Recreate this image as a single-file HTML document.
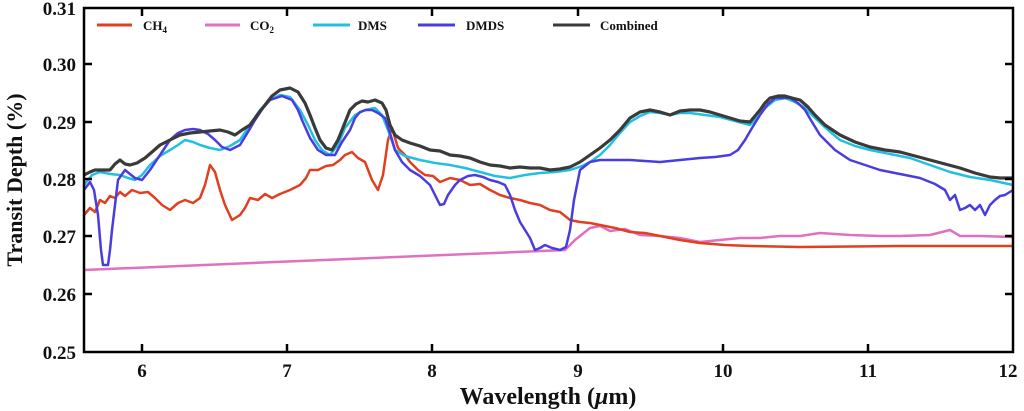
<!DOCTYPE html>
<html><head><meta charset="utf-8"><style>
body{margin:0;background:#fff;}
svg{display:block;font-family:"Liberation Serif",serif;font-weight:bold;}
</style></head><body>
<svg width="1024" height="411" viewBox="0 0 1024 411">
<g fill="none" stroke-linejoin="round" stroke-width="2.5">
<polyline stroke="#e070c0" points="84,270 565,250 575,240 590,228 600,226 610,231 625,229 640,235 660,236 680,238 700,242 720,240 740,238 760,238 780,236 800,236 820,233 850,235 880,236 900,236 930,235 950,230 960,236 980,236 1013,237"/>
<polyline stroke="#e04020" points="84,215 90,208 95,212 100,200 105,203 110,196 115,198 120,192 125,196 132,190 140,193 148,192 155,198 162,205 170,210 178,203 185,200 193,203 200,198 205,185 210,165 215,172 220,190 225,205 232,220 240,215 245,208 250,198 258,200 265,194 272,198 280,194 290,190 300,185 306,178 310,170 318,170 326,166 333,165 340,160 345,155 352,152 358,158 365,162 372,180 378,190 383,175 388,140 392,128 398,148 405,155 410,162 418,170 425,175 433,176 440,182 450,178 460,180 470,185 480,184 490,190 500,195 510,198 520,200 530,203 540,205 550,210 560,212 570,220 580,222 590,223 600,225 615,228 630,232 645,233 660,236 680,240 700,243 725,245 750,246 800,247 900,246 1013,246"/>
<polyline stroke="#22c0e0" points="84,185 92,175 100,172 110,174 120,175 128,178 135,180 142,175 150,165 160,156 170,150 178,145 185,140 193,142 200,145 210,148 220,150 230,146 240,140 250,125 260,110 270,100 280,95 290,97 300,110 308,125 315,140 322,150 330,155 338,145 345,128 355,115 365,110 375,108 382,115 388,130 395,150 405,156 420,160 435,163 450,165 465,168 480,172 495,176 510,178 525,175 540,173 555,172 570,170 582,166 590,162 600,155 610,145 620,133 630,122 640,116 650,112 660,113 670,115 680,113 690,113 705,115 720,117 735,121 750,125 758,117 765,108 775,100 785,98 795,102 805,108 815,118 828,130 840,140 855,146 870,150 890,154 910,158 930,165 950,172 970,177 990,180 1013,185"/>
<polyline stroke="#4a3de0" points="84,190 90,182 94,190 98,215 101,250 103,265 108,265 110,250 112,230 115,205 118,180 125,170 135,178 142,180 150,170 160,155 170,140 178,133 185,130 193,129 200,130 208,134 215,140 222,147 230,150 240,145 248,132 255,120 263,108 270,100 282,96 292,100 298,110 302,120 310,138 318,150 326,155 335,155 342,142 350,130 355,118 360,112 366,110 372,110 378,113 385,118 390,133 395,150 402,162 410,170 420,176 430,185 435,195 440,205 444,204 448,195 455,185 460,180 468,176 475,175 483,177 490,180 498,182 505,185 510,195 515,210 520,222 525,230 530,238 535,250 540,248 545,245 552,248 560,250 566,247 570,230 574,200 580,170 590,162 600,160 615,160 630,160 645,161 660,162 680,160 700,158 715,157 730,155 738,150 745,140 752,128 760,115 768,104 775,98 790,98 798,103 805,110 812,122 820,135 835,150 850,160 865,165 880,170 900,174 920,178 935,184 945,190 950,200 955,195 960,210 965,208 970,205 975,210 980,205 985,215 990,205 995,200 1000,196 1005,195 1013,190"/>
<polyline stroke="#3a3a3a" stroke-width="3.2" points="84,175 90,172 95,170 102,170 110,170 115,164 120,160 125,164 130,165 137,163 145,158 152,152 160,145 170,140 180,135 190,133 200,132 210,131 220,130 228,132 235,135 242,130 250,125 258,114 265,105 272,96 280,90 290,88 298,92 305,103 310,115 315,128 320,140 326,148 332,150 338,140 344,125 350,110 356,104 362,101 368,102 375,100 382,103 386,110 390,125 395,135 402,140 410,143 420,146 430,150 440,151 450,155 460,156 470,158 480,162 490,165 500,166 510,168 520,167 530,168 540,168 550,170 560,169 570,167 580,162 590,155 600,148 610,140 620,130 630,118 640,112 650,110 660,112 670,115 680,111 690,110 700,110 710,112 720,115 730,118 740,121 750,122 755,116 760,110 765,103 770,98 778,96 785,96 792,98 800,100 808,107 815,115 825,125 840,135 855,142 870,147 885,150 900,152 915,156 930,160 945,164 960,168 975,173 990,177 1000,178 1013,178"/>
</g>
<!-- axes -->
<rect x="84" y="8" width="929" height="344" fill="none" stroke="#000" stroke-width="2.5"/>
<g stroke="#000" stroke-width="2.5">
<line x1="84" y1="64" x2="92" y2="64"/><line x1="84" y1="122" x2="92" y2="122"/><line x1="84" y1="179" x2="92" y2="179"/><line x1="84" y1="236" x2="92" y2="236"/><line x1="84" y1="294" x2="92" y2="294"/>
<line x1="1013" y1="64" x2="1005" y2="64"/><line x1="1013" y1="122" x2="1005" y2="122"/><line x1="1013" y1="179" x2="1005" y2="179"/><line x1="1013" y1="236" x2="1005" y2="236"/><line x1="1013" y1="294" x2="1005" y2="294"/>
<line x1="142" y1="352" x2="142" y2="344"/><line x1="287" y1="352" x2="287" y2="344"/><line x1="432" y1="352" x2="432" y2="344"/><line x1="578" y1="352" x2="578" y2="344"/><line x1="723" y1="352" x2="723" y2="344"/><line x1="868" y1="352" x2="868" y2="344"/>
<line x1="142" y1="8" x2="142" y2="16"/><line x1="287" y1="8" x2="287" y2="16"/><line x1="432" y1="8" x2="432" y2="16"/><line x1="578" y1="8" x2="578" y2="16"/><line x1="723" y1="8" x2="723" y2="16"/><line x1="868" y1="8" x2="868" y2="16"/>
</g>
<g font-size="19" text-anchor="end" fill="#111">
<text x="76" y="15">0.31</text><text x="76" y="71">0.30</text><text x="76" y="129">0.29</text><text x="76" y="186">0.28</text><text x="76" y="243">0.27</text><text x="76" y="301">0.26</text><text x="76" y="359">0.25</text>
</g>
<g font-size="19" text-anchor="middle" fill="#111">
<text x="142" y="377">6</text><text x="287" y="377">7</text><text x="432" y="377">8</text><text x="578" y="377">9</text><text x="723" y="377">10</text><text x="868" y="377">11</text><text x="1008" y="377">12</text>
</g>
<text x="548" y="404" font-size="24" text-anchor="middle" fill="#111">Wavelength (<tspan font-style="italic">μ</tspan>m)</text>
<text transform="translate(22,180) rotate(-90)" font-size="22" text-anchor="middle" fill="#111">Transit Depth (%)</text>
<!-- legend -->
<g stroke-width="3">
<line x1="97" y1="25" x2="132" y2="25" stroke="#e04020"/>
<line x1="205" y1="25" x2="240" y2="25" stroke="#e070c0"/>
<line x1="313" y1="25" x2="350" y2="25" stroke="#22c0e0"/>
<line x1="418" y1="25" x2="455" y2="25" stroke="#4a3de0"/>
<line x1="553" y1="25" x2="590" y2="25" stroke="#3a3a3a"/>
</g>
<g font-size="13" fill="#111">
<text x="143" y="30">CH<tspan font-size="9" dy="3">4</tspan></text>
<text x="250" y="30">CO<tspan font-size="9" dy="3">2</tspan></text>
<text x="358" y="30">DMS</text>
<text x="466" y="30">DMDS</text>
<text x="600" y="30">Combined</text>
</g>
</svg>
</body></html>
